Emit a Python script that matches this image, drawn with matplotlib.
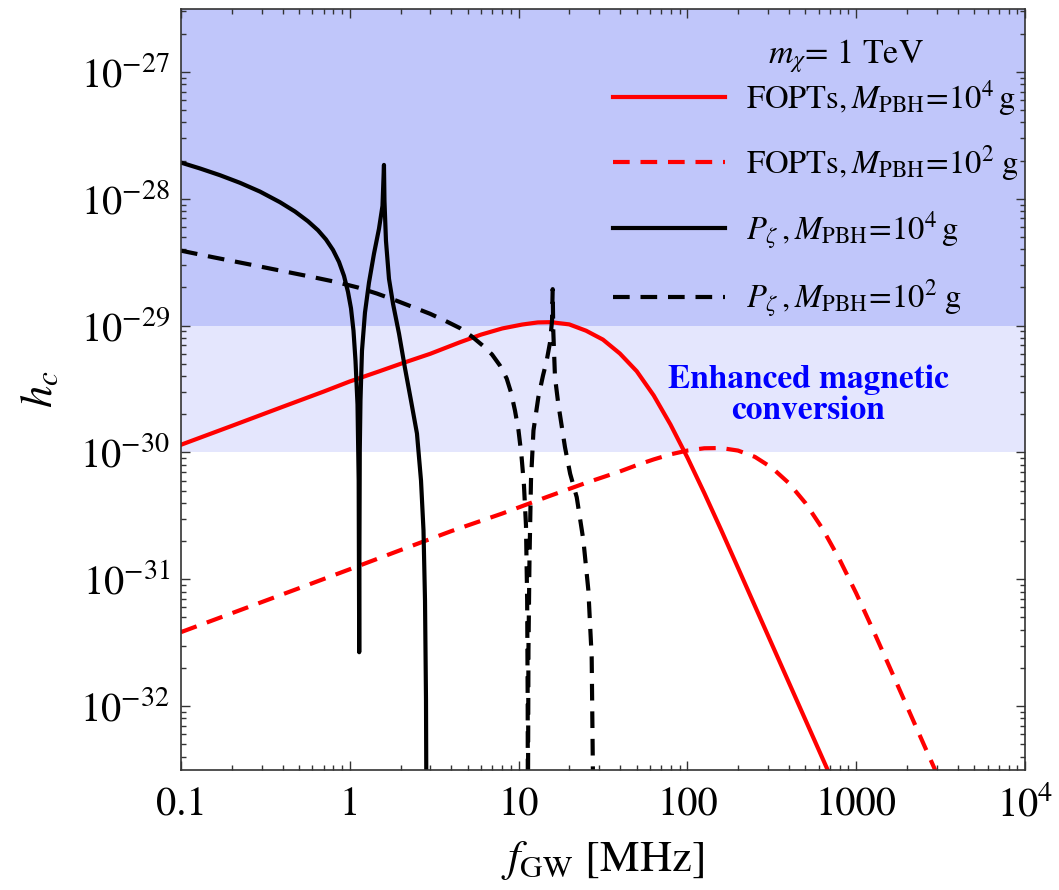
import numpy as np
import matplotlib
matplotlib.use("Agg")
import matplotlib.pyplot as plt
from matplotlib.ticker import FixedLocator, LogLocator, NullFormatter

plt.rcParams['font.family'] = ['STIXGeneral', 'Liberation Serif', 'DejaVu Serif']
plt.rcParams['mathtext.fontset'] = 'stix'

# FOPTs, M_PBH = 1e4 g
f_fopt4 = [0.1, 0.2, 0.4, 0.7, 1.0, 1.5, 2.0, 3.0, 4.5, 6.0, 8.0, 10.5, 13, 15.5,
           19.95, 25.1, 31.6, 39.8, 50.1, 63.1, 79.4, 100, 125.9, 158.5, 199.5, 316,
           676, 794]
h_fopt4 = [1.15e-30, 1.62e-30, 2.29e-30, 3.02e-30, 3.63e-30, 4.37e-30, 5.0e-30, 6.0e-30,
           7.4e-30, 8.5e-30, 9.5e-30, 1.02e-29, 1.06e-29, 1.065e-29,
           1.023e-29, 9.12e-30, 7.76e-30, 6.03e-30, 4.37e-30, 2.82e-30, 1.66e-30, 9.12e-31,
           4.79e-31, 2.45e-31, 1.23e-31, 3.09e-32, 3.16e-33, 1.95e-33]

# FOPTs, M_PBH = 1e2 g
f_fopt2 = [0.1, 0.2, 0.5, 1.0, 2.0, 4.0, 8.0, 15, 25, 39.8, 50.1, 63.1, 79.4, 100,
           125.9, 158.5, 199.5, 251.2, 316.2, 398.1, 501.2, 631, 794.3, 1000, 1259, 1585,
           1995, 2512, 3162]
h_fopt2 = [3.83e-32, 5.4e-32, 8.5e-32, 1.2e-31, 1.7e-31, 2.4e-31, 3.3e-31, 4.5e-31,
           5.75e-31, 7.08e-31, 7.94e-31, 8.81e-31, 9.66e-31, 1.035e-30, 1.079e-30,
           1.084e-30, 1.035e-30, 9.23e-31, 7.59e-31, 5.75e-31, 3.98e-31, 2.51e-31,
           1.445e-31, 7.76e-32, 3.98e-32, 2.0e-32, 1.0e-32, 5.0e-33, 2.51e-33]

# P_zeta, M_PBH = 1e4 g
f_pz4 = [0.1, 0.1296, 0.1702, 0.2236, 0.2938, 0.386, 0.4735, 0.5655, 0.648, 0.7228,
         0.7954, 0.863, 0.924, 0.9757, 1.0165, 1.0517, 1.0809, 1.111, 1.129, 1.137,
         1.140, 1.146, 1.157, 1.181, 1.23, 1.299, 1.391, 1.489, 1.562, 1.594,
         1.605, 1.638, 1.707, 1.803, 1.957, 2.12, 2.305, 2.50, 2.642, 2.733, 2.79,
         2.828, 2.847]
h_pz4 = [1.93e-28, 1.735e-28, 1.535e-28, 1.337e-28, 1.14e-28, 9.4e-29, 7.94e-29, 6.65e-29,
         5.65e-29, 4.78e-29, 3.95e-29, 3.18e-29, 2.47e-29, 1.845e-29, 1.37e-29, 9.13e-30,
         5.3e-30, 2.39e-30, 6.0e-31, 2.66e-32,
         1.41e-31, 1.04e-30, 2.57e-30, 6.35e-30, 1.265e-29, 2.18e-29, 3.69e-29, 5.8e-29,
         8.8e-29, 1.85e-28,
         9.64e-29, 4.67e-29, 2.34e-29, 1.49e-29, 8.65e-30, 4.67e-30, 2.56e-30, 1.41e-30,
         6.0e-31, 2.43e-31, 6.8e-32, 1.12e-32, 1e-33]

# P_zeta, M_PBH = 1e2 g
f_pz2 = [0.1, 0.157, 0.248, 0.391, 0.616, 0.84, 1.114, 1.449, 1.897, 2.368, 2.99, 3.664,
         4.50, 5.30, 6.18, 6.96, 7.76, 8.5, 9.02, 9.52, 9.99, 10.4, 10.76, 11.06, 11.24,
         11.32, 11.35,
         11.44, 11.6, 11.84, 12.25, 13.09, 13.95, 14.67, 15.35, 15.78, 15.92,
         16.05, 16.43, 17.18, 18.83, 20.2, 22.1, 24.2, 25.9, 27.1, 27.8]
h_pz2 = [3.9e-29, 3.45e-29, 3.06e-29, 2.71e-29, 2.40e-29, 2.20e-29, 2.0e-29, 1.79e-29,
         1.57e-29, 1.40e-29, 1.24e-29, 1.094e-29, 9.55e-30, 8.19e-30, 6.9e-30, 5.92e-30,
         4.84e-30, 3.83e-30, 2.97e-30, 2.14e-30, 1.49e-30, 9.46e-31, 5.5e-31, 2.66e-31,
         6.8e-32, 1.11e-32, 1e-33,
         2.75e-32, 1.41e-31, 6.0e-31, 1.49e-30, 2.72e-30, 4.04e-30, 5.3e-30, 7.35e-30,
         1.094e-29, 1.94e-29,
         9.1e-30, 3.92e-30, 2.42e-30, 1.10e-30, 6.8e-31, 4.44e-31, 2.03e-31, 8.2e-32,
         2.45e-32, 1e-33]

x_ticks = [0.1, 1, 10, 100, 1000, 1e4]
x_labels = ['0.1', '1', '10', '100', '1000', r'$10^4$']
y_ticks = [1e-32, 1e-31, 1e-30, 1e-29, 1e-28, 1e-27]
y_labels = [r'$10^{-32}$', r'$10^{-31}$', r'$10^{-30}$', r'$10^{-29}$', r'$10^{-28}$', r'$10^{-27}$']

fig = plt.figure(figsize=(10.59, 8.90), dpi=100)
ax = fig.add_axes([0.1709, 0.1348, 0.797, 0.855])

ax.axhspan(1e-30, 1e-29, color='#e4e6fd', lw=0, zorder=0)
ax.axhspan(1e-29, 1e-26, color='#c0c6fa', lw=0, zorder=0)

dash = (0, (4, 2.6))
ax.plot(f_fopt4, h_fopt4, color='#ff0000', lw=3.0, label=r'FOPTs$,M_{\mathrm{PBH}}\!=\!10^4\,$g')
ax.plot(f_fopt2, h_fopt2, color='#ff0000', lw=3.0, ls=dash, label=r'FOPTs$,M_{\mathrm{PBH}}\!=\!10^2\;$g')
ax.plot(f_pz4, h_pz4, color='black', lw=3.0, label=r'$P_\zeta\,,M_{\mathrm{PBH}}\!=\!10^4\,$g')
ax.plot(f_pz2, h_pz2, color='black', lw=3.0, ls=dash, label=r'$P_\zeta\,,M_{\mathrm{PBH}}\!=\!10^2\;$g')

ax.set_xscale('log')
ax.set_yscale('log')
ax.set_xlim(0.1, 1e4)
ax.set_ylim(10**-32.504, 10**-26.504)

ax.xaxis.set_major_locator(FixedLocator(x_ticks))
ax.set_xticklabels(x_labels)
ax.yaxis.set_major_locator(FixedLocator(y_ticks))
ax.set_yticklabels(y_labels)
ax.xaxis.set_minor_locator(LogLocator(base=10, subs=np.arange(2, 10)))
ax.yaxis.set_minor_locator(LogLocator(base=10, subs=np.arange(2, 10)))
ax.xaxis.set_minor_formatter(NullFormatter())
ax.yaxis.set_minor_formatter(NullFormatter())

ax.tick_params(which='both', direction='in', top=True, right=True, colors='#333333',
               labelcolor='black', width=1.0)
ax.tick_params(which='major', length=6.5, labelsize=29)
ax.tick_params(which='minor', length=3.6)
ax.tick_params(axis='x', which='major', pad=12)
ax.tick_params(axis='y', which='major', pad=8)
for s in ax.spines.values():
    s.set_color('#333333')
    s.set_linewidth(1.2)

ax.set_xlabel(r'$f_{\mathrm{GW}}$ [MHz]', fontsize=32, labelpad=10)
ax.set_ylabel(r'$h_c$', fontsize=32, labelpad=14)

ax.text(0.743, 0.493, 'Enhanced magnetic\nconversion', transform=ax.transAxes,
        ha='center', va='center', color='#0000ff', fontsize=24, fontweight='bold',
        linespacing=1.05)

ax.text(0.788, 0.938, r'$m_\chi$= 1 TeV', transform=ax.transAxes,
        ha='center', va='center', fontsize=24.5)

leg = ax.legend(loc='upper right', bbox_to_anchor=(1.0, 0.917), frameon=False,
                fontsize=23.5, handlelength=3.45, handletextpad=0.64, labelspacing=0.78,
                borderaxespad=0.0, borderpad=0.2)

fig.savefig('out.png', dpi=100)
